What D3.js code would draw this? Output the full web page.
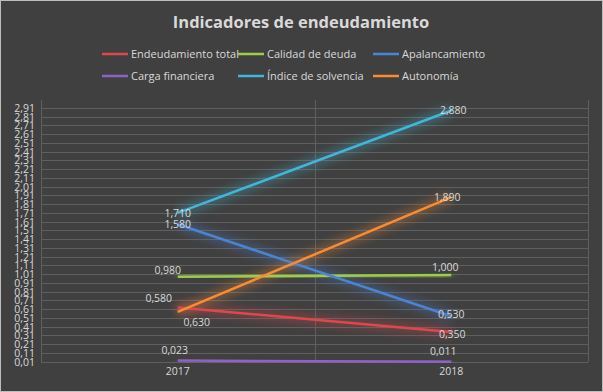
<!DOCTYPE html>
<html><head><meta charset="utf-8">
<script src="https://cdn.jsdelivr.net/npm/d3@7"></script>
<style>body{margin:0;background:#404040;}svg{display:block;}</style>
</head><body>
<svg id="c" width="603" height="392"></svg>
<script>
const years = ["2017", "2018"];
const seriesNames = ["Endeudamiento total", "Calidad de deuda", "Apalancamiento", "Carga financiera", "Índice de solvencia", "Autonomía"];
const endeudamientoTotal = [0.630, 0.350];
const calidadDeuda = [0.980, 1.000];
const apalancamiento = [1.580, 0.530];
const cargaFinanciera = [0.023, 0.011];
const indiceSolvencia = [1.710, 2.880];
const autonomia = [0.580, 1.890];
const yTicks = d3.range(0, 30).map(i => +(0.01 + i * 0.1).toFixed(2));

const values = [endeudamientoTotal, calidadDeuda, apalancamiento, cargaFinanciera, indiceSolvencia, autonomia];
const colors = ["#e0474c", "#9ccc4c", "#4a84d4", "#8e63c4", "#41b6d9", "#f98c32"];
// label offsets (dx, dy) per series per point
const labelOff = [
  [[19, 15], [1, 2]],
  [[-10, -7], [-6, -8]],
  [[0, 0], [0, -2]],
  [[-3, -10], [-8, -10]],
  [[0, 0], [2, 0]],
  [[-19, -14], [-4, 0]]
];

const svg = d3.select("#c");
const W = 603, H = 392;
svg.append("rect").attr("x", 0.5).attr("y", 0.5).attr("width", W - 1).attr("height", H - 1)
  .attr("fill", "#404040").attr("stroke", "#bdbdbd").attr("stroke-width", 1);

const defs = svg.append("defs");
const f = defs.append("filter").attr("id", "glow").attr("x", "-20%").attr("y", "-50%").attr("width", "140%").attr("height", "200%");
f.append("feGaussianBlur").attr("stdDeviation", 5);

const font = "'Open Sans', 'Noto Sans', sans-serif";
const x = d3.scaleBand().domain(years).range([41, 588]);
const y = d3.scaleLinear().domain([0.01, 3.0]).range([361.75, 100]);
const fmt = v => d3.format(".2f")(v).replace(".", ",");
const fmt3 = v => d3.format(".3f")(v).replace(".", ",");

// grid
const g = svg.append("g");
g.selectAll("line.h").data(yTicks).join("line")
  .attr("x1", 41).attr("x2", 588)
  .attr("y1", d => Math.round(y(d)) + 0.5).attr("y2", d => Math.round(y(d)) + 0.5)
  .attr("stroke", "#5f5f5f").attr("stroke-width", 1);
const vx = [41, x("2018"), 588];
g.selectAll("line.v").data(vx).join("line")
  .attr("x1", d => Math.round(d) + 0.5).attr("x2", d => Math.round(d) + 0.5)
  .attr("y1", 100).attr("y2", 362)
  .attr("stroke", "#5f5f5f").attr("stroke-width", 1);

// y axis labels
const yAxis = d3.axisLeft(y).tickValues(yTicks).tickFormat(fmt).tickSize(0).tickPadding(0);
const ya = svg.append("g").attr("transform", "translate(35,0)").call(yAxis);
ya.select(".domain").remove();
ya.selectAll("text").attr("fill", "#d9d9d9").style("font-family", font).style("font-size", "10.5px");

// x axis labels
const xAxis = d3.axisBottom(x).tickSize(0).tickPadding(0);
const xa = svg.append("g").attr("transform", "translate(0,368)").call(xAxis);
xa.select(".domain").remove();
xa.selectAll("text").attr("fill", "#d9d9d9").style("font-family", font).style("font-size", "10.5px");

const cx = d => x(d) + x.bandwidth() / 2;
const line = d3.line().x((d, i) => cx(years[i])).y(d => y(d));

// glows
values.forEach((vals, s) => {
  svg.append("path").datum(vals).attr("d", line).attr("fill", "none")
    .attr("stroke", colors[s]).attr("stroke-width", 9).attr("stroke-opacity", 0.35)
    .attr("filter", "url(#glow)");
});
values.forEach((vals, s) => {
  svg.append("path").datum(vals).attr("d", line).attr("fill", "none")
    .attr("stroke", colors[s]).attr("stroke-width", 2.5);
});

// data labels
values.forEach((vals, s) => {
  vals.forEach((v, i) => {
    const o = labelOff[s][i];
    svg.append("text").attr("x", cx(years[i]) + o[0]).attr("y", y(v) + o[1])
      .attr("dy", "0.35em").attr("text-anchor", "middle")
      .attr("fill", "#d9d9d9").style("font-family", font).style("font-size", "10.5px")
      .text(fmt3(v));
  });
});

// title
svg.append("text").attr("x", 301).attr("y", 28).attr("text-anchor", "middle")
  .attr("fill", "#d9d9d9").style("font-family", font).style("font-size", "16.5px").style("font-weight", "bold")
  .text("Indicadores de endeudamiento");

// legend
const legX = [102, 238, 373];
const legY = [54, 76];
seriesNames.forEach((n, s) => {
  const lx = legX[s % 3], ly = legY[Math.floor(s / 3)];
  svg.append("line").attr("x1", lx).attr("x2", lx + 26).attr("y1", ly).attr("y2", ly)
    .attr("stroke", colors[s]).attr("stroke-width", 2.5);
  svg.append("text").attr("x", lx + 29).attr("y", ly).attr("dy", "0.35em")
    .attr("fill", "#d9d9d9").style("font-family", font).style("font-size", "11px").text(n);
});
</script>
</body></html>
